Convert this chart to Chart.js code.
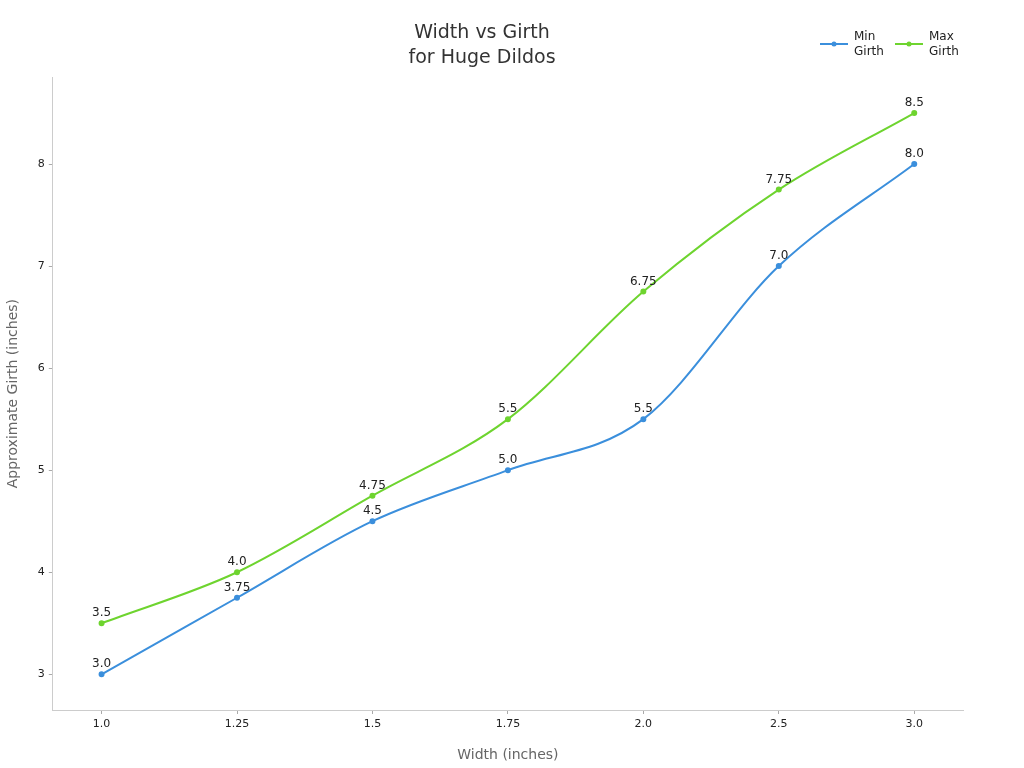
<!DOCTYPE html>
<html><head><meta charset="utf-8">
<script src="https://cdn.jsdelivr.net/npm/chart.js@4/dist/chart.umd.min.js"></script>
<style>html,body{margin:0;background:#fff}#wrap{width:1024px;height:768px}</style>
</head><body><div id="wrap"><canvas id="c"></canvas></div>
<script>
const widths = ['1.0','1.25','1.5','1.75','2.0','2.5','3.0'];
const minGirth = [3.0,3.75,4.5,5.0,5.5,7.0,8.0];
const maxGirth = [3.5,4.0,4.75,5.5,6.75,7.75,8.5];
const seriesNames = [['Min','Girth'],['Max','Girth']];
const colors = ['#3b8fdc','#6ed42f'];

const pointLabels = {
  id:'pointLabels',
  afterDatasetsDraw(chart){
    const ctx=chart.ctx;
    ctx.save();
    ctx.font='12px "DejaVu Sans"';ctx.fillStyle='#222';ctx.textAlign='center';ctx.textBaseline='bottom';
    chart.data.datasets.forEach((ds,i)=>{
      chart.getDatasetMeta(i).data.forEach((p,j)=>{
        const v=ds.data[j].y;
        ctx.fillText(String(v%1===0?v.toFixed(1):v),p.x,p.y-4);
      });
    });
    ctx.restore();
  }
};
const legendBox = {
  id:'legendBox',
  afterDraw(chart){
    const ctx=chart.ctx;ctx.save();
    ctx.font='12px "DejaVu Sans"';ctx.textBaseline='middle';
    const xs=[820,895];
    seriesNames.forEach((n,i)=>{
      const x=xs[i];
      ctx.strokeStyle=colors[i];ctx.fillStyle=colors[i];ctx.lineWidth=2;
      ctx.beginPath();ctx.moveTo(x,44);ctx.lineTo(x+28,44);ctx.stroke();
      ctx.beginPath();ctx.arc(x+14,44,2.5,0,Math.PI*2);ctx.fill();
      ctx.fillStyle='#222';ctx.textAlign='left';
      ctx.fillText(n[0],x+34,37);ctx.fillText(n[1],x+34,52);
    });
    ctx.restore();
  }
};
function mk(arr){return arr.map((v,i)=>({x:i,y:v}));}
new Chart(document.getElementById('c'),{
  type:'line',
  data:{datasets:[
    {label:'Min Girth',data:mk(minGirth),borderColor:colors[0],backgroundColor:colors[0],borderWidth:2,pointRadius:2,cubicInterpolationMode:'monotone'},
    {label:'Max Girth',data:mk(maxGirth),borderColor:colors[1],backgroundColor:colors[1],borderWidth:2,pointRadius:2,cubicInterpolationMode:'monotone'}
  ]},
  options:{
    responsive:true,maintainAspectRatio:false,animation:false,
    layout:{padding:{left:1,right:61,top:16,bottom:0}},
    plugins:{
      legend:{display:false},tooltip:{enabled:false},
      title:{display:true,text:['Width vs Girth','for Huge Dildos'],color:'#333',font:{family:'DejaVu Sans',size:19,weight:'normal',lineHeight:1.35},padding:{top:4,bottom:6}}
    },
    scales:{
      x:{type:'linear',min:-0.36,max:6.36,
        afterBuildTicks(s){s.ticks=widths.map((_,i)=>({value:i}));},
        ticks:{callback:(v)=>widths[v],color:'#222',font:{family:'DejaVu Sans',size:11},padding:4},
        grid:{display:true,drawOnChartArea:false,drawTicks:true,tickLength:4,color:'#aaa'},border:{color:'#ccc'},
        title:{display:true,text:'Width (inches)',color:'#666',font:{family:'DejaVu Sans',size:14},padding:{top:12,bottom:4}}},
      y:{min:2.65,max:8.85,
        afterBuildTicks(s){s.ticks=[3,4,5,6,7,8].map(v=>({value:v}));},
        ticks:{color:'#222',font:{family:'DejaVu Sans',size:11},padding:4},
        grid:{display:true,drawOnChartArea:false,tickLength:4,color:'#aaa'},border:{color:'#ccc'},
        title:{display:true,text:'Approximate Girth (inches)',color:'#666',font:{family:'DejaVu Sans',size:14},padding:{bottom:12}}}
    }
  },
  plugins:[pointLabels,legendBox]
});
</script></body></html>
